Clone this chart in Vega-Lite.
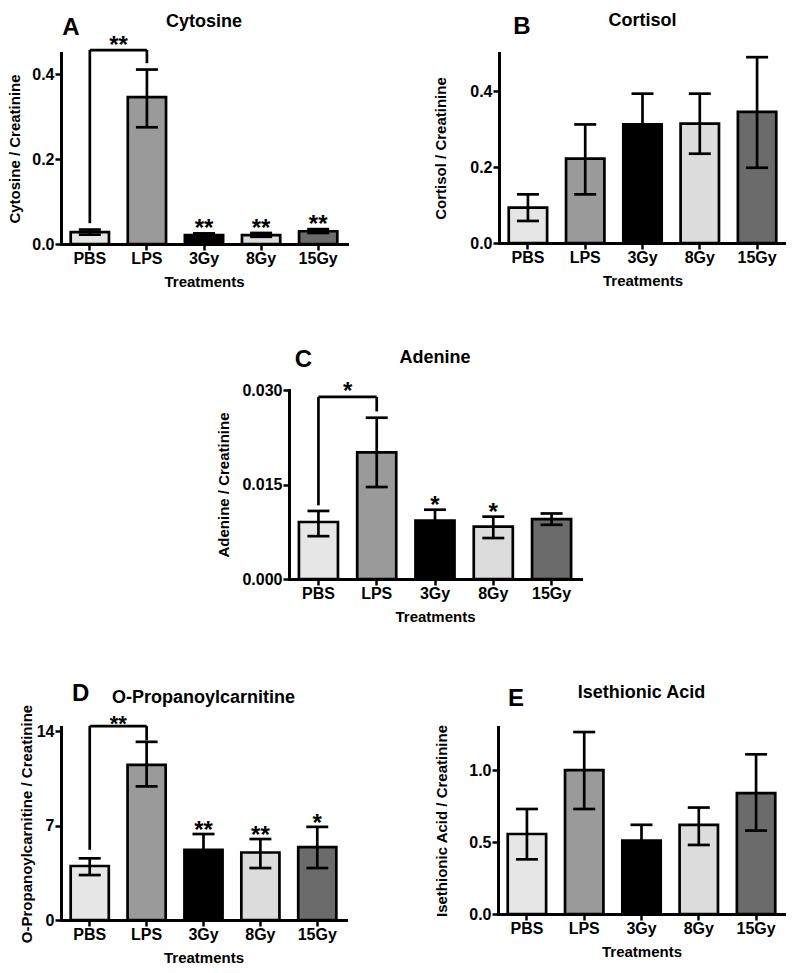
{
 "$schema": "https://vega.github.io/schema/vega-lite/v6.json",
 "padding": {"left": 7, "top": 12, "right": 0, "bottom": 0},
 "background": "white",
 "config": {
  "font": "Liberation Sans",
  "view": {"stroke": null},
  "axis": {"domainColor": "black", "domainWidth": 3, "domainCap": "square", "tickColor": "black", "tickWidth": 2.5, "tickSize": 6, "labelColor": "black", "labelFont": "Liberation Sans", "labelFontSize": 16, "labelFontWeight": "bold", "labelPadding": 1, "titleColor": "black", "titleFont": "Liberation Sans", "titleFontSize": 15, "titleFontWeight": "bold", "grid": false},
  "axisX": {"labelAngle": 0, "labelPadding": 0, "titlePadding": 8},
  "text": {"font": "Liberation Sans", "fontWeight": "bold", "color": "black"}
 },
 "datasets": {
  "bars": [
   {"panel": "A", "treatment": "PBS", "mean": 0.028, "lo": 0.022, "hi": 0.034, "sig": ""},
   {"panel": "A", "treatment": "LPS", "mean": 0.346, "lo": 0.275, "hi": 0.411, "sig": ""},
   {"panel": "A", "treatment": "3Gy", "mean": 0.021, "lo": 0.017, "hi": 0.025, "sig": "**"},
   {"panel": "A", "treatment": "8Gy", "mean": 0.021, "lo": 0.017, "hi": 0.026, "sig": "**"},
   {"panel": "A", "treatment": "15Gy", "mean": 0.030, "lo": 0.026, "hi": 0.035, "sig": "**"},
   {"panel": "B", "treatment": "PBS", "mean": 0.093, "lo": 0.058, "hi": 0.128, "sig": ""},
   {"panel": "B", "treatment": "LPS", "mean": 0.222, "lo": 0.128, "hi": 0.312, "sig": ""},
   {"panel": "B", "treatment": "3Gy", "mean": 0.312, "lo": 0.231, "hi": 0.393, "sig": ""},
   {"panel": "B", "treatment": "8Gy", "mean": 0.314, "lo": 0.235, "hi": 0.393, "sig": ""},
   {"panel": "B", "treatment": "15Gy", "mean": 0.345, "lo": 0.198, "hi": 0.489, "sig": ""},
   {"panel": "C", "treatment": "PBS", "mean": 0.00905, "lo": 0.0068, "hi": 0.0108, "sig": ""},
   {"panel": "C", "treatment": "LPS", "mean": 0.0201, "lo": 0.0146, "hi": 0.0256, "sig": ""},
   {"panel": "C", "treatment": "3Gy", "mean": 0.00926, "lo": 0.0075, "hi": 0.011, "sig": "*"},
   {"panel": "C", "treatment": "8Gy", "mean": 0.0083, "lo": 0.0065, "hi": 0.0099, "sig": "*"},
   {"panel": "C", "treatment": "15Gy", "mean": 0.0095, "lo": 0.0086, "hi": 0.0104, "sig": ""},
   {"panel": "D", "treatment": "PBS", "mean": 4.0, "lo": 3.33, "hi": 4.57, "sig": ""},
   {"panel": "D", "treatment": "LPS", "mean": 11.5, "lo": 9.9, "hi": 13.2, "sig": ""},
   {"panel": "D", "treatment": "3Gy", "mean": 5.2, "lo": 4.0, "hi": 6.37, "sig": "**"},
   {"panel": "D", "treatment": "8Gy", "mean": 5.0, "lo": 3.85, "hi": 6.0, "sig": "**"},
   {"panel": "D", "treatment": "15Gy", "mean": 5.4, "lo": 3.85, "hi": 6.9, "sig": "*"},
   {"panel": "E", "treatment": "PBS", "mean": 0.556, "lo": 0.38, "hi": 0.73, "sig": ""},
   {"panel": "E", "treatment": "LPS", "mean": 1.0, "lo": 0.73, "hi": 1.265, "sig": ""},
   {"panel": "E", "treatment": "3Gy", "mean": 0.51, "lo": 0.40, "hi": 0.62, "sig": ""},
   {"panel": "E", "treatment": "8Gy", "mean": 0.62, "lo": 0.48, "hi": 0.74, "sig": ""},
   {"panel": "E", "treatment": "15Gy", "mean": 0.84, "lo": 0.58, "hi": 1.11, "sig": ""}
  ],
  "brackets": [
   {"panel": "A", "from": "PBS", "to": "PBS", "y1": 0.049, "y2": 0.457},
   {"panel": "A", "from": "PBS", "to": "LPS", "y1": 0.457, "y2": 0.457},
   {"panel": "A", "from": "LPS", "to": "LPS", "y1": 0.426, "y2": 0.457},
   {"panel": "C", "from": "PBS", "to": "PBS", "y1": 0.0117, "y2": 0.0289},
   {"panel": "C", "from": "PBS", "to": "LPS", "y1": 0.0289, "y2": 0.0289},
   {"panel": "C", "from": "LPS", "to": "LPS", "y1": 0.0266, "y2": 0.0289},
   {"panel": "D", "from": "PBS", "to": "PBS", "y1": 5.2, "y2": 14.37},
   {"panel": "D", "from": "PBS", "to": "LPS", "y1": 14.37, "y2": 14.37},
   {"panel": "D", "from": "LPS", "to": "LPS", "y1": 13.3, "y2": 14.37}
  ],
  "bstars": [
   {"panel": "A", "from": "PBS", "sig": "**", "y": 0.457},
   {"panel": "C", "from": "PBS", "sig": "*", "y": 0.0289},
   {"panel": "D", "from": "PBS", "sig": "**", "y": 14.37}
  ]
 },
 "spacing": 337,
 "bounds": "flush",
 "vconcat": [
  {
   "spacing": 152,
   "bounds": "flush",
   "hconcat": [
    {
     "width": 286, "height": 191,
     "data": {"name": "bars"},
     "transform": [{"filter": "datum.panel === 'A'"}],
     "layer": [
      {"mark": {"type": "bar", "stroke": "black", "strokeWidth": 2.7},
       "encoding": {
        "x": {"field": "treatment", "type": "nominal", "scale": {"domain": ["PBS", "LPS", "3Gy", "8Gy", "15Gy"], "paddingInner": 0.33, "paddingOuter": 0.17}, "axis": {"title": "Treatments"}},
        "y": {"field": "mean", "type": "quantitative", "scale": {"domain": [0, 0.45], "nice": false}, "axis": {"values": [0, 0.2, 0.4], "format": ".1f", "title": "Cytosine / Creatinine", "titlePadding": 9}},
        "fill": {"field": "treatment", "type": "nominal", "scale": {"domain": ["PBS", "LPS", "3Gy", "8Gy", "15Gy"], "range": ["#e6e6e6", "#9a9a9a", "#000000", "#dcdcdc", "#6b6b6b"]}, "legend": null}}},
      {"mark": {"type": "rule", "strokeWidth": 2.7, "color": "black"},
       "encoding": {"x": {"field": "treatment", "type": "nominal"}, "y": {"field": "lo", "type": "quantitative"}, "y2": {"field": "hi"}}},
      {"mark": {"type": "tick", "thickness": 2.7, "size": 22, "color": "black", "opacity": 1},
       "encoding": {"x": {"field": "treatment", "type": "nominal"}, "y": {"field": "hi", "type": "quantitative"}}},
      {"mark": {"type": "tick", "thickness": 2.7, "size": 22, "color": "black", "opacity": 1},
       "encoding": {"x": {"field": "treatment", "type": "nominal"}, "y": {"field": "lo", "type": "quantitative"}}},
      {"transform": [{"filter": "datum.sig !== ''"}],
       "mark": {"type": "text", "fontSize": 24, "baseline": "alphabetic", "dy": 3},
       "encoding": {"x": {"field": "treatment", "type": "nominal"}, "y": {"field": "hi", "type": "quantitative"}, "text": {"field": "sig"}}},
      {"data": {"name": "brackets"}, "transform": [{"filter": "datum.panel === 'A'"}],
       "mark": {"type": "rule", "strokeWidth": 2.7, "color": "black"},
       "encoding": {"x": {"field": "from", "type": "nominal", "bandPosition": 0.5}, "x2": {"field": "to", "bandPosition": 0.5}, "y": {"field": "y1", "type": "quantitative"}, "y2": {"field": "y2"}}},
      {"data": {"name": "bstars"}, "transform": [{"filter": "datum.panel === 'A'"}],
       "mark": {"type": "text", "fontSize": 24, "baseline": "alphabetic", "dy": 3},
       "encoding": {"x": {"field": "from", "type": "nominal", "bandPosition": 1.25}, "y": {"field": "y", "type": "quantitative"}, "text": {"field": "sig"}}},
      {"data": {"values": [{"letter": "A"}]},
       "mark": {"type": "text", "fontSize": 24, "baseline": "middle", "dx": -19, "dy": -25},
       "encoding": {"x": {"datum": "PBS", "type": "nominal"}, "y": {"datum": 0.45, "type": "quantitative"}, "text": {"field": "letter"}}},
      {"data": {"values": [{"name": "Cytosine"}]},
       "mark": {"type": "text", "fontSize": 18, "baseline": "middle", "dy": -31},
       "encoding": {"x": {"datum": "3Gy", "type": "nominal"}, "y": {"datum": 0.45, "type": "quantitative"}, "text": {"field": "name"}}}
     ]
    },
    {
     "width": 287, "height": 190,
     "data": {"name": "bars"},
     "transform": [{"filter": "datum.panel === 'B'"}],
     "layer": [
      {"mark": {"type": "bar", "stroke": "black", "strokeWidth": 2.7},
       "encoding": {
        "x": {"field": "treatment", "type": "nominal", "scale": {"domain": ["PBS", "LPS", "3Gy", "8Gy", "15Gy"], "paddingInner": 0.33, "paddingOuter": 0.17}, "axis": {"title": "Treatments"}},
        "y": {"field": "mean", "type": "quantitative", "scale": {"domain": [0, 0.5], "nice": false}, "axis": {"values": [0, 0.2, 0.4], "format": ".1f", "title": "Cortisol / Creatinine", "titlePadding": 21}},
        "fill": {"field": "treatment", "type": "nominal", "scale": {"domain": ["PBS", "LPS", "3Gy", "8Gy", "15Gy"], "range": ["#e6e6e6", "#9a9a9a", "#000000", "#dcdcdc", "#6b6b6b"]}, "legend": null}}},
      {"mark": {"type": "rule", "strokeWidth": 2.7, "color": "black"},
       "encoding": {"x": {"field": "treatment", "type": "nominal"}, "y": {"field": "lo", "type": "quantitative"}, "y2": {"field": "hi"}}},
      {"mark": {"type": "tick", "thickness": 2.7, "size": 22, "color": "black", "opacity": 1},
       "encoding": {"x": {"field": "treatment", "type": "nominal"}, "y": {"field": "hi", "type": "quantitative"}}},
      {"mark": {"type": "tick", "thickness": 2.7, "size": 22, "color": "black", "opacity": 1},
       "encoding": {"x": {"field": "treatment", "type": "nominal"}, "y": {"field": "lo", "type": "quantitative"}}},
      {"data": {"values": [{"letter": "B"}]},
       "mark": {"type": "text", "fontSize": 24, "baseline": "middle", "dx": -6, "dy": -26},
       "encoding": {"x": {"datum": "PBS", "type": "nominal"}, "y": {"datum": 0.5, "type": "quantitative"}, "text": {"field": "letter"}}},
      {"data": {"values": [{"name": "Cortisol"}]},
       "mark": {"type": "text", "fontSize": 18, "baseline": "middle", "dy": -32},
       "encoding": {"x": {"datum": "3Gy", "type": "nominal"}, "y": {"datum": 0.5, "type": "quantitative"}, "text": {"field": "name"}}}
     ]
    }
   ]
  },
  {
   "spacing": 20,
   "bounds": "flush",
   "hconcat": [
    {"width": 208, "height": 189, "data": {"values": []}, "mark": "point", "encoding": {}},
    {
     "width": 292, "height": 189,
     "data": {"name": "bars"},
     "transform": [{"filter": "datum.panel === 'C'"}],
     "layer": [
      {"mark": {"type": "bar", "stroke": "black", "strokeWidth": 2.7},
       "encoding": {
        "x": {"field": "treatment", "type": "nominal", "scale": {"domain": ["PBS", "LPS", "3Gy", "8Gy", "15Gy"], "paddingInner": 0.33, "paddingOuter": 0.17}, "axis": {"title": "Treatments"}},
        "y": {"field": "mean", "type": "quantitative", "scale": {"domain": [0, 0.03], "nice": false}, "axis": {"values": [0, 0.015, 0.03], "format": ".3f", "title": "Adenine / Creatinine", "titlePadding": 10}},
        "fill": {"field": "treatment", "type": "nominal", "scale": {"domain": ["PBS", "LPS", "3Gy", "8Gy", "15Gy"], "range": ["#e6e6e6", "#9a9a9a", "#000000", "#dcdcdc", "#6b6b6b"]}, "legend": null}}},
      {"mark": {"type": "rule", "strokeWidth": 2.7, "color": "black"},
       "encoding": {"x": {"field": "treatment", "type": "nominal"}, "y": {"field": "lo", "type": "quantitative"}, "y2": {"field": "hi"}}},
      {"mark": {"type": "tick", "thickness": 2.7, "size": 22, "color": "black", "opacity": 1},
       "encoding": {"x": {"field": "treatment", "type": "nominal"}, "y": {"field": "hi", "type": "quantitative"}}},
      {"mark": {"type": "tick", "thickness": 2.7, "size": 22, "color": "black", "opacity": 1},
       "encoding": {"x": {"field": "treatment", "type": "nominal"}, "y": {"field": "lo", "type": "quantitative"}}},
      {"transform": [{"filter": "datum.sig !== ''"}],
       "mark": {"type": "text", "fontSize": 24, "baseline": "alphabetic", "dy": 3},
       "encoding": {"x": {"field": "treatment", "type": "nominal"}, "y": {"field": "hi", "type": "quantitative"}, "text": {"field": "sig"}}},
      {"data": {"name": "brackets"}, "transform": [{"filter": "datum.panel === 'C'"}],
       "mark": {"type": "rule", "strokeWidth": 2.7, "color": "black"},
       "encoding": {"x": {"field": "from", "type": "nominal", "bandPosition": 0.5}, "x2": {"field": "to", "bandPosition": 0.5}, "y": {"field": "y1", "type": "quantitative"}, "y2": {"field": "y2"}}},
      {"data": {"name": "bstars"}, "transform": [{"filter": "datum.panel === 'C'"}],
       "mark": {"type": "text", "fontSize": 24, "baseline": "alphabetic", "dy": 2},
       "encoding": {"x": {"field": "from", "type": "nominal", "bandPosition": 1.25}, "y": {"field": "y", "type": "quantitative"}, "text": {"field": "sig"}}},
      {"data": {"values": [{"letter": "C"}]},
       "mark": {"type": "text", "fontSize": 24, "baseline": "middle", "dx": -15, "dy": -30},
       "encoding": {"x": {"datum": "PBS", "type": "nominal"}, "y": {"datum": 0.03, "type": "quantitative"}, "text": {"field": "letter"}}},
      {"data": {"values": [{"name": "Adenine"}]},
       "mark": {"type": "text", "fontSize": 18, "baseline": "middle", "dy": -32},
       "encoding": {"x": {"datum": "3Gy", "type": "nominal"}, "y": {"datum": 0.03, "type": "quantitative"}, "text": {"field": "name"}}}
     ]
    }
   ]
  },
  {
   "spacing": 152,
   "bounds": "flush",
   "hconcat": [
    {
     "width": 285, "height": 193,
     "data": {"name": "bars"},
     "transform": [{"filter": "datum.panel === 'D'"}],
     "layer": [
      {"mark": {"type": "bar", "stroke": "black", "strokeWidth": 2.7},
       "encoding": {
        "x": {"field": "treatment", "type": "nominal", "scale": {"domain": ["PBS", "LPS", "3Gy", "8Gy", "15Gy"], "paddingInner": 0.33, "paddingOuter": 0.17}, "axis": {"title": "Treatments"}},
        "y": {"field": "mean", "type": "quantitative", "scale": {"domain": [0, 14.3], "nice": false}, "axis": {"values": [0, 7, 14], "format": "d", "title": "O-Propanoylcarnitine / Creatinine", "titlePadding": 2}},
        "fill": {"field": "treatment", "type": "nominal", "scale": {"domain": ["PBS", "LPS", "3Gy", "8Gy", "15Gy"], "range": ["#e6e6e6", "#9a9a9a", "#000000", "#dcdcdc", "#6b6b6b"]}, "legend": null}}},
      {"mark": {"type": "rule", "strokeWidth": 2.7, "color": "black"},
       "encoding": {"x": {"field": "treatment", "type": "nominal"}, "y": {"field": "lo", "type": "quantitative"}, "y2": {"field": "hi"}}},
      {"mark": {"type": "tick", "thickness": 2.7, "size": 22, "color": "black", "opacity": 1},
       "encoding": {"x": {"field": "treatment", "type": "nominal"}, "y": {"field": "hi", "type": "quantitative"}}},
      {"mark": {"type": "tick", "thickness": 2.7, "size": 22, "color": "black", "opacity": 1},
       "encoding": {"x": {"field": "treatment", "type": "nominal"}, "y": {"field": "lo", "type": "quantitative"}}},
      {"transform": [{"filter": "datum.sig !== ''"}],
       "mark": {"type": "text", "fontSize": 24, "baseline": "alphabetic", "dy": 4},
       "encoding": {"x": {"field": "treatment", "type": "nominal"}, "y": {"field": "hi", "type": "quantitative"}, "text": {"field": "sig"}}},
      {"data": {"name": "brackets"}, "transform": [{"filter": "datum.panel === 'D'"}],
       "mark": {"type": "rule", "strokeWidth": 2.7, "color": "black"},
       "encoding": {"x": {"field": "from", "type": "nominal", "bandPosition": 0.5}, "x2": {"field": "to", "bandPosition": 0.5}, "y": {"field": "y1", "type": "quantitative"}, "y2": {"field": "y2"}}},
      {"data": {"name": "bstars"}, "transform": [{"filter": "datum.panel === 'D'"}],
       "mark": {"type": "text", "fontSize": 22, "baseline": "alphabetic", "dy": 5},
       "encoding": {"x": {"field": "from", "type": "nominal", "bandPosition": 1.25}, "y": {"field": "y", "type": "quantitative"}, "text": {"field": "sig"}}},
      {"data": {"values": [{"letter": "D"}]},
       "mark": {"type": "text", "fontSize": 24, "baseline": "middle", "dx": -9, "dy": -33},
       "encoding": {"x": {"datum": "PBS", "type": "nominal"}, "y": {"datum": 14.3, "type": "quantitative"}, "text": {"field": "letter"}}},
      {"data": {"values": [{"name": "O-Propanoylcarnitine"}]},
       "mark": {"type": "text", "fontSize": 18, "baseline": "middle", "dy": -29},
       "encoding": {"x": {"datum": "3Gy", "type": "nominal"}, "y": {"datum": 14.3, "type": "quantitative"}, "text": {"field": "name"}}}
     ]
    },
    {
     "width": 287, "height": 187,
     "data": {"name": "bars"},
     "transform": [{"filter": "datum.panel === 'E'"}],
     "layer": [
      {"mark": {"type": "bar", "stroke": "black", "strokeWidth": 2.7},
       "encoding": {
        "x": {"field": "treatment", "type": "nominal", "scale": {"domain": ["PBS", "LPS", "3Gy", "8Gy", "15Gy"], "paddingInner": 0.33, "paddingOuter": 0.17}, "axis": {"title": "Treatments"}},
        "y": {"field": "mean", "type": "quantitative", "scale": {"domain": [0, 1.3], "nice": false}, "axis": {"values": [0, 0.5, 1.0], "format": ".1f", "title": "Isethionic Acid / Creatinine", "titlePadding": 19}},
        "fill": {"field": "treatment", "type": "nominal", "scale": {"domain": ["PBS", "LPS", "3Gy", "8Gy", "15Gy"], "range": ["#e6e6e6", "#9a9a9a", "#000000", "#dcdcdc", "#6b6b6b"]}, "legend": null}}},
      {"mark": {"type": "rule", "strokeWidth": 2.7, "color": "black"},
       "encoding": {"x": {"field": "treatment", "type": "nominal"}, "y": {"field": "lo", "type": "quantitative"}, "y2": {"field": "hi"}}},
      {"mark": {"type": "tick", "thickness": 2.7, "size": 22, "color": "black", "opacity": 1},
       "encoding": {"x": {"field": "treatment", "type": "nominal"}, "y": {"field": "hi", "type": "quantitative"}}},
      {"mark": {"type": "tick", "thickness": 2.7, "size": 22, "color": "black", "opacity": 1},
       "encoding": {"x": {"field": "treatment", "type": "nominal"}, "y": {"field": "lo", "type": "quantitative"}}},
      {"data": {"values": [{"letter": "E"}]},
       "mark": {"type": "text", "fontSize": 24, "baseline": "middle", "dx": -11, "dy": -28},
       "encoding": {"x": {"datum": "PBS", "type": "nominal"}, "y": {"datum": 1.3, "type": "quantitative"}, "text": {"field": "letter"}}},
      {"data": {"values": [{"name": "Isethionic Acid"}]},
       "mark": {"type": "text", "fontSize": 18, "baseline": "middle", "dy": -34},
       "encoding": {"x": {"datum": "3Gy", "type": "nominal"}, "y": {"datum": 1.3, "type": "quantitative"}, "text": {"field": "name"}}}
     ]
    }
   ]
  }
 ]
}
